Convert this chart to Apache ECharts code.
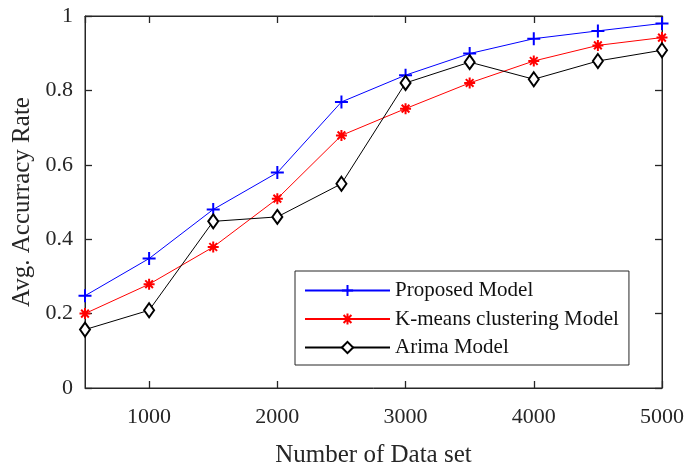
<!DOCTYPE html>
<html>
<head>
<meta charset="utf-8">
<script src="https://cdn.jsdelivr.net/npm/echarts@6/dist/echarts.min.js"></script>
<style>
  html, body { margin: 0; padding: 0; background: #fff; }
  #chart { width: 686px; height: 468px; }
</style>
</head>
<body>
<div id="chart"></div>
<script>
// Number of records in the data set
const dataSizes = [500, 1000, 1500, 2000, 2500, 3000, 3500, 4000, 4500, 5000];
// Average accuracy rate per model
const proposed = [0.248, 0.348, 0.48, 0.579, 0.769, 0.841, 0.899, 0.939, 0.96, 0.98];
const kmeans   = [0.20, 0.279, 0.379, 0.509, 0.679, 0.751, 0.82, 0.879, 0.921, 0.942];
const arima    = [0.157, 0.209, 0.448, 0.46, 0.549, 0.82, 0.876, 0.83, 0.879, 0.908];
const seriesNames = ['Proposed Model', 'K-means clustering Model', 'Arima Model'];
// Axis ranges and tick steps
const xRange = [500, 5000];
const yRange = [0, 1];
const yStep = 0.2;

const FONT = '"Liberation Serif", "Times New Roman", serif';
const AXIS_COLOR = '#262626';

const plusPath = 'path://M0,5H10M5,0V10';
const starPath = 'path://M0,5H10M5,0V10M1.5,1.5L8.5,8.5M8.5,1.5L1.5,8.5';

const pairs = vals => dataSizes.map((x, i) => [x, vals[i]]);

const chart = echarts.init(document.getElementById('chart'));

const tickStyle = () => ({ show: true, inside: true, length: 7, lineStyle: { color: AXIS_COLOR, width: 1.3 } });
const axisLine = () => ({ show: true, onZero: false, lineStyle: { color: AXIS_COLOR, width: 1 } });
// split lines stay enabled (tick layout follows them) but are drawn fully transparent
const hiddenSplit = () => ({ show: true, lineStyle: { color: 'rgba(0,0,0,0)', width: 0 } });

chart.setOption({
  animation: false,
  textStyle: { fontFamily: FONT },
  grid: {
    left: 85, right: 24, top: 16, bottom: 80,
    outerBoundsMode: 'none',
    show: true, borderColor: AXIS_COLOR, borderWidth: 1,
  },
  xAxis: [
    {
      type: 'value', min: xRange[0], max: xRange[1], splitNumber: 5, position: 'bottom',
      name: 'Number of Data set', nameLocation: 'middle', nameGap: 55,
      nameTextStyle: { fontFamily: FONT, fontSize: 25, color: AXIS_COLOR },
      axisLine: axisLine(),
      axisTick: tickStyle(),
      axisLabel: {
        show: true, margin: 18, showMinLabel: false,
        fontFamily: FONT, fontSize: 22, color: AXIS_COLOR,
        formatter: v => String(v),
      },
      splitLine: hiddenSplit(),
    },
    {
      type: 'value', min: xRange[0], max: xRange[1], splitNumber: 5, position: 'top',
      axisLine: axisLine(),
      axisTick: tickStyle(),
      axisLabel: { show: false },
      splitLine: hiddenSplit(),
    },
  ],
  yAxis: [
    {
      type: 'value', min: yRange[0], max: yRange[1], interval: yStep, position: 'left',
      name: 'Avg. Accurracy Rate', nameLocation: 'middle', nameGap: 49,
      nameTextStyle: { fontFamily: FONT, fontSize: 25, color: AXIS_COLOR },
      axisLine: axisLine(),
      axisTick: tickStyle(),
      axisLabel: {
        show: true, margin: 12,
        fontFamily: FONT, fontSize: 22, color: AXIS_COLOR,
        formatter: v => String(Math.round(v * 10) / 10),
      },
      splitLine: hiddenSplit(),
    },
    {
      type: 'value', min: yRange[0], max: yRange[1], interval: yStep, position: 'right',
      axisLine: axisLine(),
      axisTick: tickStyle(),
      axisLabel: { show: false },
      splitLine: hiddenSplit(),
    },
  ],
  legend: {
    orient: 'vertical',
    left: 295, top: 271,
    data: seriesNames,
    backgroundColor: '#fff',
    borderColor: AXIS_COLOR,
    borderWidth: 1,
    padding: [9, 10, 7, 9],
    itemWidth: 85,
    itemHeight: 14,
    itemGap: 7.5,
    textStyle: { fontFamily: FONT, fontSize: 21, color: '#111' },
  },
  series: [
    {
      name: seriesNames[0], type: 'line', data: pairs(proposed),
      symbol: plusPath, symbolSize: 13,
      lineStyle: { color: '#0000ff', width: 1 },
      itemStyle: { color: '#0000ff', borderColor: '#0000ff', borderWidth: 2 },
    },
    {
      name: seriesNames[1], type: 'line', data: pairs(kmeans),
      symbol: starPath, symbolSize: 11,
      lineStyle: { color: '#ff0000', width: 1 },
      itemStyle: { color: '#ff0000', borderColor: '#ff0000', borderWidth: 2 },
    },
    {
      name: seriesNames[2], type: 'line', data: pairs(arima),
      symbol: 'diamond', symbolSize: [10, 14],
      lineStyle: { color: '#000000', width: 1 },
      itemStyle: { color: '#ffffff', borderColor: '#000000', borderWidth: 2 },
    },
  ],
});
</script>
</body>
</html>
